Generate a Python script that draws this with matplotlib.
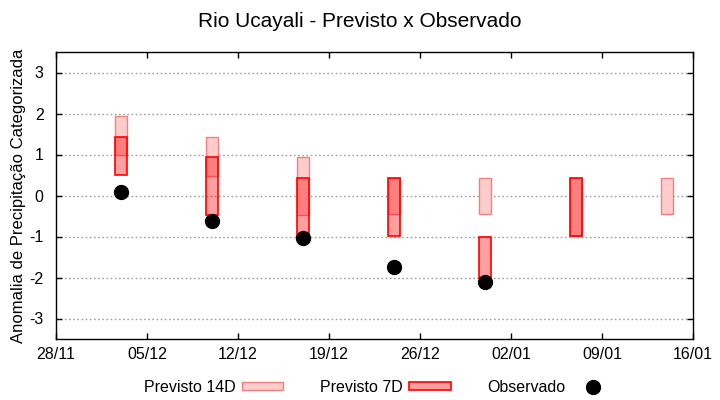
import numpy as np
import pandas as pd
import matplotlib
matplotlib.use("Agg")
import matplotlib.pyplot as plt
import matplotlib.dates as mdates
from matplotlib.patches import Patch
from matplotlib.lines import Line2D

plt.rcParams['font.family'] = ['Liberation Sans', 'DejaVu Sans']
plt.rcParams['axes.unicode_minus'] = False

# semanas de previsao
datas = pd.to_datetime(['2023-12-03', '2023-12-10', '2023-12-17', '2023-12-24',
                        '2023-12-31', '2024-01-07', '2024-01-14'])
prev14_sup = [1.95, 1.43, 0.93, 0.42, 0.42, 0.42, 0.42]
prev14_inf = [0.99, 0.48, -0.47, -0.46, -0.46, -0.98, -0.46]
prev7_sup = [1.43, 0.93, 0.42, 0.42, -1.02, 0.42, np.nan]
prev7_inf = [0.49, -0.47, -0.98, -0.98, -2.0, -0.98, np.nan]
observado = [0.08, -0.63, -1.03, -1.74, -2.12, np.nan, np.nan]

xticks = pd.date_range('2023-11-28', '2024-01-16', freq='7D')
yticks = [-3, -2, -1, 0, 1, 2, 3]

fig = plt.figure(figsize=(7.2, 4.0), dpi=100)
ax = fig.add_axes([56/720, 61/400, 637/720, 287/400])

h14 = np.array(prev14_sup) - np.array(prev14_inf)
h7 = np.array(prev7_sup) - np.array(prev7_inf)

ax.bar(datas, h14, bottom=prev14_inf, width=0.97, color='#ffcccc',
       edgecolor='#f08080', linewidth=1.0, zorder=3)
ax.bar(datas, h7, bottom=prev7_inf, width=0.97, color=(1, 0, 0, 0.375),
       edgecolor='red', linewidth=1.2, zorder=4)
ax.plot(datas, observado, 'o', color='black', markersize=10, zorder=5)

ax.set_xlim(xticks[0], xticks[-1])
ax.set_xticks(xticks)
ax.xaxis.set_major_formatter(mdates.DateFormatter('%d/%m'))
ax.set_ylim(-3.5, 3.5)
ax.set_yticks(yticks)
ax.yaxis.grid(True, color='#a0a0a0', linestyle=(0, (1.2, 1.8)), linewidth=1.0, zorder=1)
ax.tick_params(direction='in', length=4, width=1, top=True, right=True,
               labelsize=11.5, pad=6, colors='black')
ax.tick_params(axis='y', pad=9)
for s in ax.spines.values():
    s.set_linewidth(1.0)

ax.set_ylabel('Anomalia de Precipitação Categorizada', fontsize=12, va='center')
ax.yaxis.set_label_coords(-37/637, 0.5)
fig.suptitle('Rio Ucayali - Previsto x Observado', fontsize=15, y=0.97)

handles = [Patch(facecolor='#ffcccc', edgecolor='#f08080', linewidth=1.0),
           Patch(facecolor=(1, 0, 0, 0.375), edgecolor='red', linewidth=1.2),
           Line2D([], [], marker='o', color='black', linestyle='none', markersize=10)]
fig.legend(handles, ['Previsto 14D', 'Previsto 7D', 'Observado'], ncol=3,
           loc='center', bbox_to_anchor=(0.526, 0.032), frameon=False,
           markerfirst=False, fontsize=11.5, handlelength=2.6, handleheight=0.45,
           handletextpad=0.4, columnspacing=2.3)

fig.savefig('out.png', dpi=100)
